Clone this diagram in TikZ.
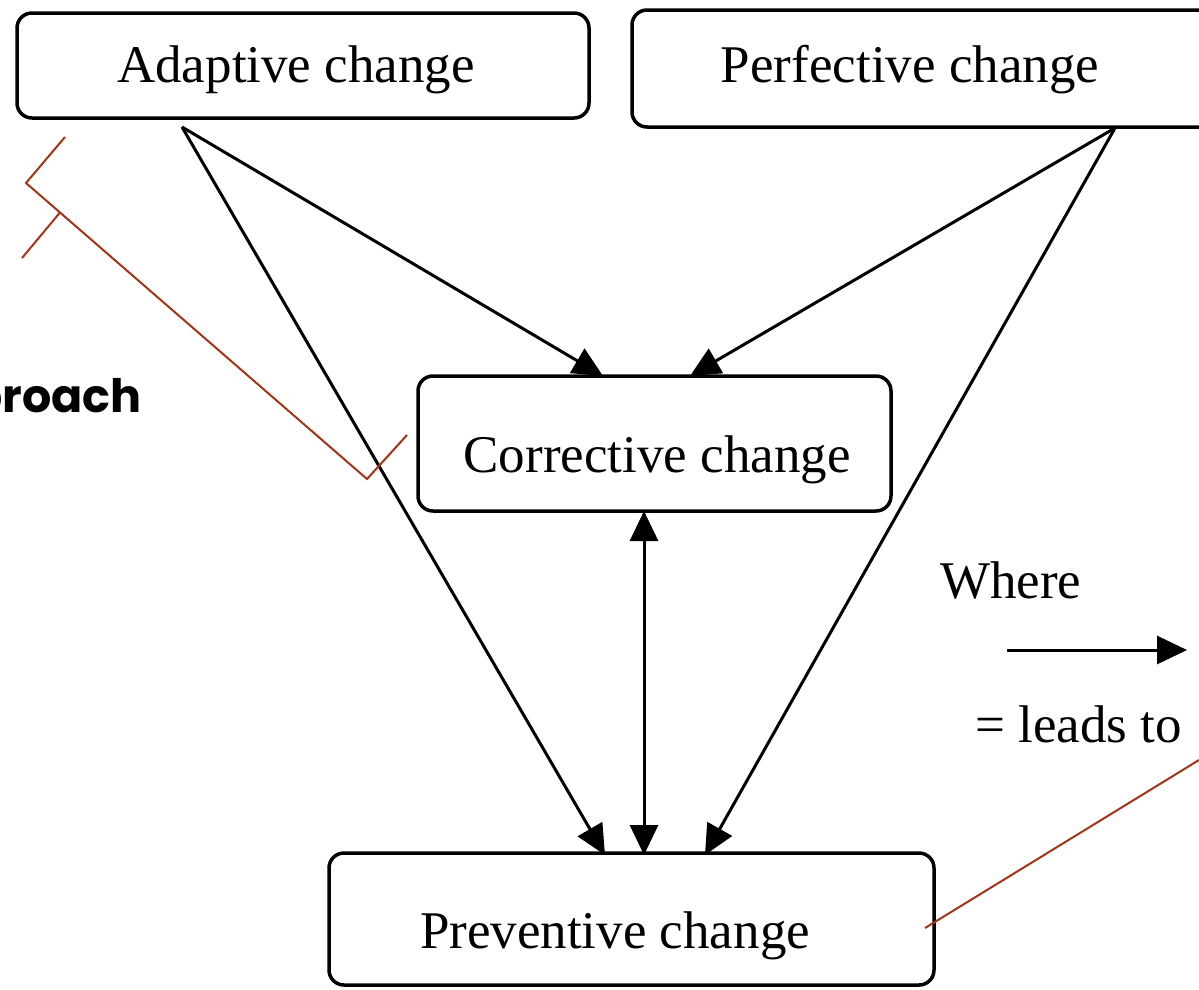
\documentclass[tikz,border=0pt]{standalone}
\usepackage{fontspec}
\setmainfont{Liberation Serif}
\newfontfamily\popfont{Poppins}
\usetikzlibrary{arrows.meta}
\definecolor{callred}{RGB}{163,52,24}
\begin{document}
\begin{tikzpicture}[x=1pt,y=-1pt,
  box/.style={draw=black, line width=3.5pt, rounded corners=15pt, fill=white, inner sep=0pt},
  lbl/.style={font=\fontsize{53pt}{60pt}\selectfont, inner sep=0pt, anchor=base},
  conn/.style={line width=3pt, -{Triangle[length=30pt,width=28pt]}},
  dconn/.style={line width=3pt, {Triangle[length=30pt,width=28pt]}-{Triangle[length=30pt,width=28pt]}},
  callout/.style={draw=callred, line width=2pt}]
\useasboundingbox (0,0) rectangle (1199,989);
% boxes
\node[box, minimum width=572pt, minimum height=105pt] (adaptive) at (303,65.5) {};
\node[box, minimum width=598pt, minimum height=117pt] (perfective) at (931,68.5) {};
\node[box, minimum width=473pt, minimum height=135pt] (corrective) at (654.5,443.5) {};
\node[box, minimum width=605pt, minimum height=132pt] (preventive) at (631.5,919) {};
% texts
\node[lbl] (tadaptive) at (296,82) {Adaptive change};
\node[lbl] (tperfective) at (910,82) {Perfective change};
\node[lbl] (tcorrective) at (657,472) {Corrective change};
\node[lbl] (tpreventive) at (615,948) {Preventive change};
\node[lbl, anchor=base west] (where) at (940,598) {Where};
\node[lbl, anchor=base west] (leads) at (975,742) {= leads to};
% connector end points
\coordinate (aS) at (182,127);
\coordinate (pS) at (1115,128);
\coordinate (cL) at (603,376);
\coordinate (cR) at (690,376);
\coordinate (cB) at (644,511);
\coordinate (vL) at (605,855);
\coordinate (vM) at (644,855);
\coordinate (vR) at (705,855);
\coordinate (legA) at (1007,650);
\coordinate (legB) at (1187,650);
% connectors
\draw[conn] (aS) -- (cL);
\draw[conn] (aS) -- (vL);
\draw[conn] (pS) -- (cR);
\draw[conn] (pS) -- (vR);
\draw[dconn] (cB) -- (vM);
\draw[conn] (legA) -- (legB);
% callout lines
\coordinate (b1) at (65,137);
\coordinate (b2) at (26,183);
\coordinate (b3) at (367,479);
\coordinate (b4) at (407,435);
\coordinate (t1) at (60,212.5);
\coordinate (t2) at (22,258);
\draw[callout] (b1) -- (b2) -- (b3) -- (b4);
\draw[callout] (t1) -- (t2);
\coordinate (r1) at (1199,760);
\coordinate (r2) at (925,928);
\draw[callout] (r1) -- (r2);
% partial title text
\node[font=\popfont\bfseries\fontsize{46pt}{50pt}\selectfont, inner sep=0pt, anchor=base east] (approach) at (142,412) {proach};
\end{tikzpicture}
\end{document}
